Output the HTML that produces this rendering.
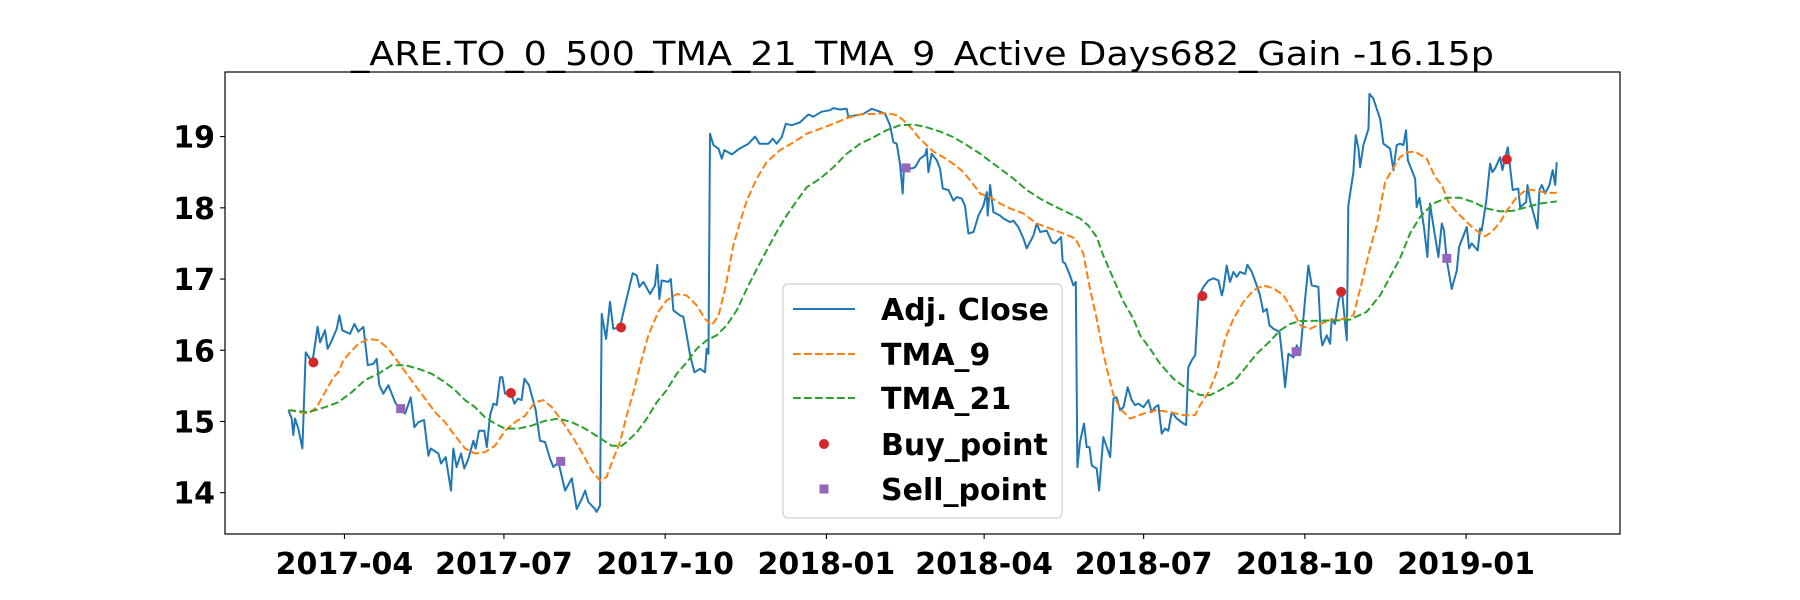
<!DOCTYPE html>
<html><head><meta charset="utf-8"><style>
html,body{margin:0;padding:0;background:#fff;}
svg{display:block;font-family:"DejaVu Sans","Liberation Sans",sans-serif;}
</style></head><body>
<svg id="chart" width="1800" height="600" viewBox="0 0 1800 600" xmlns="http://www.w3.org/2000/svg">
<rect x="0" y="0" width="1800" height="600" fill="#fff"/>
<text x="922.5" y="65" text-anchor="middle" font-size="33" textLength="1143" lengthAdjust="spacingAndGlyphs" fill="#000">_ARE.TO_0_500_TMA_21_TMA_9_Active Days682_Gain -16.15p</text>
<g id="plot"></g>
<g id="axes"></g>
<g id="legend"></g>
</svg>
<script>
// day = days since 2017-01-01
const xTickDays = [90,181,273,365,455,546,638,730];
const xTickLabels = ["2017-04","2017-07","2017-10","2018-01","2018-04","2018-07","2018-10","2019-01"];
const yTickValues = [14,15,16,17,18,19];
const closeSeries = [[58.0,15.16],[59.9,15.04],[60.8,14.81],[61.8,15.04],[63.7,14.90],[66.0,14.62],[67.9,15.97],[71.7,15.83],[74.7,16.33],[76.1,16.11],[78.9,16.28],[80.4,16.02],[82.3,16.11],[85.6,16.30],[87.1,16.49],[88.8,16.28],[93.2,16.23],[95.7,16.37],[97.9,16.26],[100.8,16.33],[103.3,15.79],[106.5,15.81],[108.4,15.88],[109.9,15.51],[112.2,15.39],[115.1,15.51],[118.9,15.27],[121.7,15.16],[124.6,15.11],[127.8,15.34],[129.9,14.92],[132.2,14.99],[135.4,15.02],[137.9,14.52],[139.2,14.62],[143.6,14.55],[145.1,14.41],[147.8,14.50],[150.8,14.03],[152.1,14.62],[154.0,14.36],[156.5,14.55],[158.4,14.34],[160.7,14.48],[163.6,14.73],[164.9,14.62],[166.8,14.87],[169.8,14.87],[171.2,14.64],[173.1,15.09],[175.0,15.25],[176.9,15.23],[178.8,15.62],[180.1,15.62],[181.6,15.39],[185.0,15.41],[187.0,15.25],[188.9,15.32],[191.1,15.30],[192.7,15.60],[195.3,15.51],[199.1,15.16],[201.6,14.73],[204.5,14.71],[207.3,14.48],[209.2,14.36],[212.1,14.43],[215.9,14.03],[219.7,14.20],[222.5,13.77],[225.4,13.91],[227.3,14.03],[229.2,13.87],[233.0,13.77],[233.9,13.73],[235.8,13.82],[236.8,16.51],[239.3,16.16],[241.5,16.68],[243.4,16.30],[247.2,16.33],[250.1,16.63],[254.5,17.08],[256.8,17.05],[258.3,16.89],[260.6,16.96],[264.4,16.79],[267.2,16.91],[268.5,17.20],[269.7,16.72],[271.0,16.98],[274.8,16.96],[276.2,17.00],[277.7,16.56],[281.5,16.49],[283.4,16.47],[285.3,16.21],[287.2,15.93],[289.7,15.69],[292.9,15.74],[295.7,15.69],[296.7,16.02],[297.7,15.95],[298.6,19.04],[300.5,18.88],[303.4,18.83],[305.3,18.69],[306.8,18.81],[311.0,18.75],[314.8,18.82],[320.5,18.90],[324.3,19.00],[326.8,18.90],[331.9,18.90],[334.4,18.97],[336.6,18.90],[339.5,18.99],[341.8,19.18],[345.2,19.16],[349.9,19.20],[354.7,19.31],[357.6,19.28],[362.3,19.35],[367.1,19.37],[369.0,19.40],[372.8,19.38],[376.6,19.39],[377.5,19.28],[382.3,19.30],[386.1,19.32],[390.9,19.39],[395.6,19.35],[398.5,19.32],[401.3,19.16],[403.2,18.92],[405.1,18.90],[407.0,18.62],[408.5,18.20],[409.3,18.60],[413.7,18.55],[415.6,18.57],[418.4,18.69],[421.3,18.74],[422.2,18.83],[423.2,18.50],[425.1,18.76],[427.9,18.67],[429.8,18.55],[431.4,18.27],[434.6,18.25],[437.5,18.10],[439.4,18.15],[442.2,18.13],[444.1,18.03],[446.0,17.64],[448.9,17.66],[451.7,17.89],[454.6,18.03],[456.5,18.22],[457.0,17.89],[458.4,18.32],[460.3,17.94],[464.1,17.89],[466.0,17.85],[469.8,17.80],[471.7,17.82],[474.5,17.73],[477.4,17.57],[479.3,17.43],[481.2,17.52],[483.1,17.61],[485.0,17.78],[486.9,17.66],[490.7,17.68],[493.6,17.52],[495.5,17.50],[498.9,17.59],[499.8,17.24],[501.2,17.22],[504.0,17.05],[505.9,16.91],[507.3,16.96],[508.2,14.36],[509.7,14.71],[512.0,14.97],[513.5,14.64],[515.1,14.64],[516.4,14.38],[519.2,14.34],[520.6,14.03],[523.0,14.78],[526.9,14.50],[528.8,15.32],[530.6,15.34],[532.6,15.16],[534.5,15.20],[536.9,15.48],[539.2,15.30],[541.1,15.23],[543.0,15.25],[545.9,15.20],[548.7,15.30],[550.6,15.13],[552.5,15.20],[554.4,15.23],[556.3,14.83],[558.2,14.90],[560.1,14.87],[562.0,15.13],[564.9,15.04],[568.7,14.97],[570.2,14.95],[571.5,15.76],[573.5,15.86],[575.4,15.93],[577.3,16.75],[580.1,16.89],[583.0,16.98],[585.8,17.01],[588.7,16.98],[590.6,16.77],[591.5,16.86],[593.4,17.19],[595.3,16.96],[597.2,17.10],[599.1,17.03],[601.0,17.10],[603.9,17.07],[605.2,17.20],[607.7,17.10],[610.5,16.91],[612.4,16.77],[614.3,16.54],[616.2,16.58],[617.8,16.35],[620.1,16.30],[623.5,16.26],[625.4,15.83],[626.7,15.48],[628.6,15.95],[631.5,15.90],[633.4,16.07],[635.3,15.93],[638.1,16.72],[640.0,17.19],[641.9,16.91],[645.7,16.89],[647.1,16.21],[648.0,16.07],[650.5,16.21],[652.4,16.09],[653.3,16.44],[655.2,16.37],[657.1,16.68],[659.0,16.86],[661.9,16.14],[662.8,18.03],[665.7,18.50],[667.0,19.02],[668.6,18.83],[669.5,18.57],[671.4,18.88],[674.3,19.11],[674.8,19.60],[677.1,19.53],[680.9,19.25],[682.8,18.90],[686.6,18.83],[688.5,18.53],[690.4,18.88],[692.3,18.90],[694.2,18.88],[695.7,19.09],[696.7,18.67],[700.9,18.41],[701.8,18.01],[703.4,18.14],[706.0,17.71],[707.9,17.31],[709.4,18.06],[711.0,17.80],[714.2,17.31],[716.1,17.78],[717.4,17.68],[719.0,17.26],[721.8,16.86],[724.7,17.12],[726.0,17.45],[730.4,17.73],[731.7,17.43],[733.2,17.50],[736.6,17.40],[738.0,17.71],[738.9,17.68],[741.4,18.08],[743.7,18.62],[745.0,18.50],[746.5,18.55],[749.4,18.71],[750.7,18.53],[751.7,18.64],[753.8,18.85],[756.6,18.25],[759.8,18.27],[760.8,18.01],[764.2,18.08],[765.0,18.32],[766.5,18.10],[770.7,17.71],[771.8,18.25],[773.2,18.32],[775.1,18.20],[777.5,18.32],[779.4,18.53],[780.8,18.32],[781.7,18.64]];
const tma9Series = [[58.0,15.16],[69.4,15.11],[74.2,15.20],[78.9,15.41],[83.7,15.62],[86.5,15.69],[89.4,15.86],[93.2,15.97],[97.9,16.09],[103.6,16.16],[109.3,16.14],[115.1,16.02],[120.8,15.83],[125.5,15.67],[130.3,15.51],[136.0,15.32],[141.7,15.13],[147.4,14.99],[153.1,14.80],[158.8,14.62],[164.5,14.55],[170.2,14.57],[175.9,14.66],[181.6,14.87],[187.3,14.99],[193.0,15.08],[198.7,15.27],[203.5,15.30],[208.3,15.20],[214.0,15.01],[219.7,14.80],[225.4,14.57],[231.1,14.31],[235.8,14.17],[239.6,14.22],[243.4,14.48],[247.2,14.71],[251.0,15.08],[254.9,15.41],[258.7,15.79],[263.4,16.21],[269.1,16.54],[273.9,16.70],[279.6,16.79],[285.3,16.77],[291.0,16.63],[295.7,16.44],[299.6,16.35],[303.4,16.49],[307.2,16.86],[311.9,17.47],[315.7,17.80],[319.5,18.10],[325.2,18.41],[330.9,18.64],[338.5,18.81],[346.2,18.92],[353.8,19.04],[361.4,19.11],[369.0,19.18],[376.6,19.26],[384.2,19.31],[393.7,19.32],[399.4,19.33],[405.1,19.30],[408.9,19.23],[413.7,19.11],[417.5,18.99],[421.3,18.90],[426.0,18.79],[431.7,18.71],[438.4,18.60],[443.2,18.50],[447.9,18.36],[452.7,18.20],[458.4,18.15],[464.1,18.06],[469.8,17.99],[477.4,17.92],[485.0,17.78],[492.6,17.71],[500.2,17.64],[506.9,17.57],[511.6,17.36],[515.4,16.86],[519.2,16.44],[522.1,16.07],[525.0,15.74],[528.8,15.37],[532.6,15.18],[538.3,15.04],[545.9,15.11],[553.5,15.16],[561.1,15.13],[568.7,15.09],[575.4,15.09],[578.2,15.23],[583.0,15.41],[587.7,15.69],[592.5,16.16],[597.2,16.44],[603.0,16.68],[608.6,16.84],[614.3,16.91],[620.1,16.87],[625.8,16.77],[631.5,16.54],[635.3,16.35],[641.0,16.30],[646.7,16.37],[652.4,16.42],[660.0,16.44],[665.7,16.49],[669.5,16.86],[675.2,17.43],[679.0,17.75],[683.8,18.36],[687.6,18.53],[692.3,18.71],[696.1,18.78],[700.9,18.79],[707.5,18.69],[712.3,18.43],[716.1,18.32],[719.9,18.08],[724.7,17.94],[730.4,17.80],[734.2,17.71],[740.8,17.60],[744.6,17.66],[749.4,17.80],[753.2,17.96],[758.9,18.15],[764.6,18.26],[770.3,18.24],[776.0,18.21],[781.7,18.21]];
const tma21Series = [[58.0,15.16],[69.4,15.13],[78.9,15.20],[86.5,15.27],[94.1,15.41],[101.7,15.58],[109.3,15.67],[117.0,15.79],[124.6,15.79],[132.2,15.74],[139.8,15.67],[147.4,15.55],[153.1,15.44],[158.8,15.30],[164.5,15.20],[170.2,15.06],[175.9,14.97],[181.6,14.90],[189.2,14.90],[196.8,14.94],[204.5,15.01],[212.1,15.04],[219.7,14.99],[227.3,14.90],[234.9,14.78],[242.5,14.66],[248.2,14.66],[251.0,14.71],[256.8,14.85],[262.5,15.04],[268.2,15.27],[273.9,15.44],[279.6,15.67],[285.3,15.83],[291.0,16.02],[296.7,16.14],[302.4,16.21],[308.1,16.35],[313.8,16.56],[319.5,16.86],[325.2,17.14],[330.9,17.40],[336.6,17.66],[342.3,17.89],[348.1,18.10],[353.8,18.29],[361.4,18.41],[369.0,18.57],[376.6,18.76],[384.2,18.90],[391.8,18.99],[399.4,19.09],[407.0,19.16],[414.6,19.17],[422.2,19.13],[429.9,19.07],[437.5,18.99],[445.1,18.88],[452.7,18.76],[460.3,18.62],[464.1,18.55],[471.7,18.41],[479.3,18.25],[486.9,18.13],[494.5,18.03],[502.1,17.94],[509.7,17.85],[514.5,17.75],[519.2,17.59],[523.0,17.33],[528.8,17.00],[534.5,16.68],[540.2,16.44],[544.0,16.21],[549.7,16.02],[555.4,15.81],[563.0,15.60],[570.6,15.46],[578.2,15.37],[583.9,15.37],[589.6,15.44],[597.2,15.55],[602.9,15.72],[610.5,15.95],[618.2,16.13],[623.9,16.28],[629.6,16.37],[635.3,16.41],[658.1,16.42],[663.8,16.43],[673.3,16.54],[680.9,16.77],[686.6,17.03],[692.3,17.29],[698.0,17.64],[703.7,17.87],[711.3,18.06],[719.0,18.14],[726.6,18.14],[734.2,18.08],[741.8,17.99],[749.4,17.95],[757.0,17.96],[764.6,18.01],[772.2,18.06],[781.7,18.09]];
const buyPoints = [[72.3,15.83],[185.0,15.40],[247.8,16.32],[579.5,16.76],[658.7,16.82],[753.2,18.68]];
const sellPoints = [[122.1,15.18],[213.4,14.44],[410.4,18.56],[633.0,15.98],[719.0,17.29]];
const legendLabels = ["Adj. Close","TMA_9","TMA_21","Buy_point","Sell_point"];

const NS = "http://www.w3.org/2000/svg";
const AX = {l:225, r:1620, t:72, b:534};
const X0 = 21.85, X1 = 817.8, Y0 = 13.42, Y1 = 19.907;
function xS(d){ return AX.l + (d - X0) / (X1 - X0) * (AX.r - AX.l); }
function yS(v){ return AX.b - (v - Y0) / (Y1 - Y0) * (AX.b - AX.t); }
function mk(tag, attrs, parent){
  const e = document.createElementNS(NS, tag);
  for (const k in attrs) e.setAttribute(k, attrs[k]);
  parent.appendChild(e);
  return e;
}
const plot = document.getElementById('plot');
const axes = document.getElementById('axes');
const legend = document.getElementById('legend');

function pathOf(series){ return series.map((p,i)=>(i?'L':'M')+xS(p[0]).toFixed(1)+','+yS(p[1]).toFixed(1)).join(''); }

let e;
e = mk('path', {d:pathOf(closeSeries), fill:'none', stroke:'#1f77b4', 'stroke-width':2, 'stroke-linejoin':'round'}, plot);


e = mk('path', {d:pathOf(tma9Series), fill:'none', stroke:'#ff7f0e', 'stroke-width':2, 'stroke-dasharray':'7.7,3.3'}, plot);


e = mk('path', {d:pathOf(tma21Series), fill:'none', stroke:'#2ca02c', 'stroke-width':2, 'stroke-dasharray':'7.7,3.3'}, plot);


buyPoints.forEach(p=>{
  const c = mk('circle', {cx:xS(p[0]), cy:yS(p[1]), r:5, fill:'#d62728'}, plot);
  
  
});
sellPoints.forEach(p=>{
  const s = mk('rect', {x:xS(p[0])-4.5, y:yS(p[1])-4.5, width:9, height:9, fill:'#9467bd'}, plot);
  
  
});

e = mk('rect', {x:AX.l, y:AX.t, width:AX.r-AX.l, height:AX.b-AX.t, fill:'none', stroke:'#000', 'stroke-width':1.2}, axes);


xTickDays.forEach((d,i)=>{
  const x = xS(d);
  const t = mk('line', {x1:x, x2:x, y1:AX.b, y2:AX.b+5, stroke:'#000', 'stroke-width':1.1}, axes);
  
  
  const l = mk('text', {x:x, y:574, 'text-anchor':'middle', 'font-size':30, 'font-weight':'bold', fill:'#000'}, axes);
  l.textContent = xTickLabels[i];
  
  
});
yTickValues.forEach(v=>{
  const y = yS(v);
  const t = mk('line', {x1:AX.l-5, x2:AX.l, y1:y, y2:y, stroke:'#000', 'stroke-width':1.1}, axes);
  
  
  const l = mk('text', {x:AX.l-10, y:y+11, 'text-anchor':'end', 'font-size':30, 'font-weight':'bold', fill:'#000'}, axes);
  l.textContent = String(v);
  
  
});

e = mk('rect', {x:783, y:284, width:279, height:234, rx:5, fill:'#fff', 'fill-opacity':0.85, stroke:'#d0d0d0', 'stroke-width':1.2}, legend);


const rowY = [309,354,398,444,489];
const styles = [['#1f77b4',null],['#ff7f0e','7.7,3.3'],['#2ca02c','7.7,3.3']];
legendLabels.forEach((lab,i)=>{
  const y = rowY[i];
  if (i < 3) {
    const a = {x1:793, x2:855, y1:y, y2:y, stroke:styles[i][0], 'stroke-width':2};
    if (styles[i][1]) a['stroke-dasharray'] = styles[i][1];
    const ln = mk('line', a, legend);
    
    
  } else if (i === 3) {
    const c = mk('circle', {cx:824, cy:y, r:5, fill:'#d62728'}, legend);
    
    
  } else {
    const s = mk('rect', {x:819.5, y:y-4.5, width:9, height:9, fill:'#9467bd'}, legend);
    
    
  }
  const t = mk('text', {x:881, y:y+11, 'font-size':30, 'font-weight':'bold', fill:'#000'}, legend);
  t.textContent = lab;
  
  
});
</script>
</body></html>
